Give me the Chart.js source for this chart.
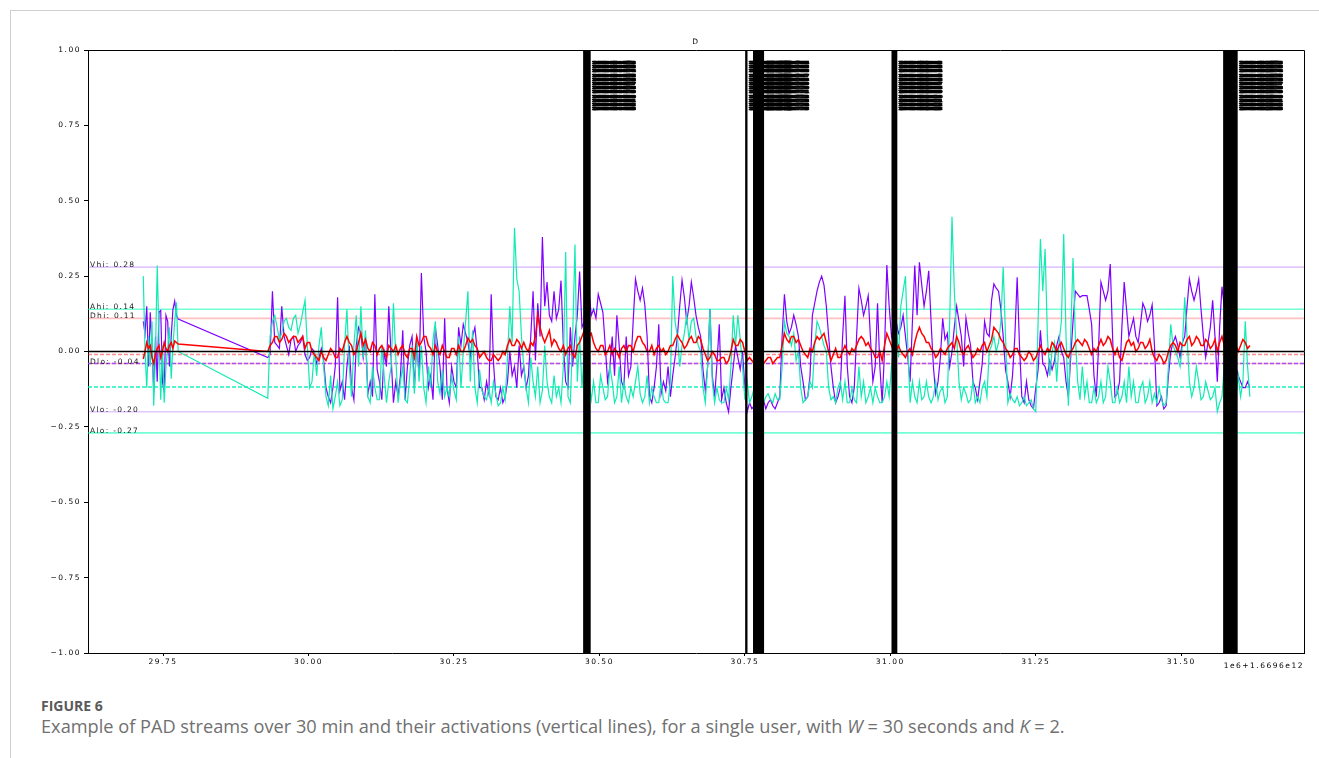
<!DOCTYPE html>
<html>
<head>
<meta charset="utf-8">
<script src="https://cdn.jsdelivr.net/npm/chart.js@4.4.1/dist/chart.umd.min.js"></script>
<style>
  html, body { margin: 0; padding: 0; background: #fff; }
  body { width: 1319px; height: 758px; position: relative; overflow: hidden; }
  #chart { position: absolute; left: 0; top: 0; }
  .frame { position: absolute; left: 10px; top: 10px; right: 0; bottom: 0;
           border-top: 1px solid #cfcfcf; border-left: 1px solid #cfcfcf; }
  .fig { position: absolute; left: 41px; top: 696px; font: bold 14px "Open Sans", sans-serif; color: #5a5a5a; }
  .cap { position: absolute; left: 41px; top: 714px; font: 18.2px "Open Sans", sans-serif; color: #707070; white-space: nowrap; }
</style>
</head>
<body>
<div class="frame"></div>
<canvas id="chart" width="1319" height="690"></canvas>
<div class="fig">FIGURE 6</div>
<div class="cap">Example of PAD streams over 30 min and their activations (vertical lines), for a single user, with <i>W</i> = 30 seconds and <i>K</i> = 2.</div>
<script>
// time axis in units of 1e6 ms, offset 1.6696e12
const times = [
  29.716, 29.719, 29.722, 29.725, 29.728, 29.731, 29.734, 29.737, 29.740, 29.743,
  29.746, 29.749, 29.752, 29.755, 29.758, 29.761, 29.764, 29.767, 29.770, 29.773, 29.776,
  29.930, 29.934, 29.938, 29.942, 29.946, 29.950, 29.954, 29.958, 29.962, 29.966,
  29.970, 29.974, 29.978, 29.982, 29.986, 29.990, 29.994, 29.998, 30.002, 30.006,
  30.010, 30.014, 30.018, 30.022, 30.026, 30.030, 30.034, 30.038, 30.042, 30.046,
  30.050, 30.054, 30.058, 30.062, 30.066, 30.070, 30.074, 30.078, 30.082, 30.086,
  30.090, 30.094, 30.098, 30.102, 30.106, 30.110, 30.114, 30.118, 30.122, 30.126,
  30.130, 30.134, 30.138, 30.142, 30.146, 30.150, 30.154, 30.158, 30.162, 30.166,
  30.170, 30.174, 30.178, 30.182, 30.186, 30.190, 30.194, 30.198, 30.202, 30.206,
  30.210, 30.214, 30.218, 30.222, 30.226, 30.230, 30.234, 30.238, 30.242, 30.246,
  30.250, 30.254, 30.258, 30.262, 30.266, 30.270, 30.274, 30.278, 30.282, 30.286,
  30.290, 30.294, 30.298, 30.302, 30.306, 30.310, 30.314, 30.318, 30.322, 30.326,
  30.330, 30.334, 30.338, 30.342, 30.346, 30.350, 30.354, 30.358, 30.362, 30.366,
  30.370, 30.374, 30.378, 30.382, 30.386, 30.390, 30.394, 30.398, 30.402, 30.406,
  30.410, 30.414, 30.418, 30.422, 30.426, 30.430, 30.434, 30.438, 30.442, 30.446,
  30.450, 30.454, 30.458, 30.462, 30.466, 30.470, 30.474, 30.478, 30.482, 30.486,
  30.490, 30.494, 30.498, 30.502, 30.506, 30.510, 30.514, 30.518, 30.522, 30.526,
  30.530, 30.534, 30.538, 30.542, 30.546, 30.550, 30.554, 30.558, 30.562, 30.566,
  30.570, 30.574, 30.578, 30.582, 30.586, 30.590, 30.594, 30.598, 30.602, 30.606,
  30.610, 30.614, 30.618, 30.622, 30.626, 30.630, 30.634, 30.638, 30.642, 30.646,
  30.650, 30.654, 30.658, 30.662, 30.666, 30.670, 30.674, 30.678, 30.682, 30.686,
  30.690, 30.694, 30.698, 30.702, 30.706, 30.710, 30.714, 30.718, 30.722, 30.726,
  30.730, 30.734, 30.738, 30.742, 30.746, 30.750, 30.754, 30.758, 30.762, 30.766,
  30.770, 30.774, 30.778, 30.782, 30.786, 30.790, 30.794, 30.798, 30.802, 30.806,
  30.810, 30.814, 30.818, 30.822, 30.826, 30.830, 30.834, 30.838, 30.842, 30.846,
  30.850, 30.854, 30.858, 30.862, 30.866, 30.870, 30.874, 30.878, 30.882, 30.886,
  30.890, 30.894, 30.898, 30.902, 30.906, 30.910, 30.914, 30.918, 30.922, 30.926,
  30.930, 30.934, 30.938, 30.942, 30.946, 30.950, 30.954, 30.958, 30.962, 30.966,
  30.970, 30.974, 30.978, 30.982, 30.986, 30.990, 30.994, 30.998, 31.002, 31.006,
  31.010, 31.014, 31.018, 31.022, 31.026, 31.030, 31.034, 31.038, 31.042, 31.046,
  31.050, 31.054, 31.058, 31.062, 31.066, 31.070, 31.074, 31.078, 31.082, 31.086,
  31.090, 31.094, 31.098, 31.102, 31.106, 31.110, 31.114, 31.118, 31.122, 31.126,
  31.130, 31.134, 31.138, 31.142, 31.146, 31.150, 31.154, 31.158, 31.162, 31.166,
  31.170, 31.174, 31.178, 31.182, 31.186, 31.190, 31.194, 31.198, 31.202, 31.206,
  31.210, 31.214, 31.218, 31.222, 31.226, 31.230, 31.234, 31.238, 31.242, 31.246,
  31.250, 31.254, 31.258, 31.262, 31.266, 31.270, 31.274, 31.278, 31.282, 31.286,
  31.290, 31.294, 31.298, 31.302, 31.306, 31.310, 31.314, 31.318, 31.322, 31.326,
  31.330, 31.334, 31.338, 31.342, 31.346, 31.350, 31.354, 31.358, 31.362, 31.366,
  31.370, 31.374, 31.378, 31.382, 31.386, 31.390, 31.394, 31.398, 31.402, 31.406,
  31.410, 31.414, 31.418, 31.422, 31.426, 31.430, 31.434, 31.438, 31.442, 31.446,
  31.450, 31.454, 31.458, 31.462, 31.466, 31.470, 31.474, 31.478, 31.482, 31.486,
  31.490, 31.494, 31.498, 31.502, 31.506, 31.510, 31.514, 31.518, 31.522, 31.526,
  31.530, 31.534, 31.538, 31.542, 31.546, 31.550, 31.554, 31.558, 31.562, 31.566,
  31.570, 31.574, 31.578, 31.582, 31.586, 31.590, 31.594, 31.598, 31.602, 31.606,
  31.610, 31.614, 31.618
];

const valence = [
  0.10, 0.06, 0.15, -0.05, 0.13, 0.02, -0.135, 0.05, -0.10, 0.13,
  0.136, -0.10, -0.135, 0.12, 0.10, -0.05, 0.05, 0.14, 0.167, 0.12, 0.108,
  -0.02, -0.01, 0.20, 0.03, 0.02, 0.01, 0.15, 0.05, 0.02, -0.01,
  0.04, 0.05, 0.00, 0.02, 0.03, 0.05, -0.01, -0.03, -0.02, 0.01,
  0.00, -0.04, -0.02, 0.01, -0.03, -0.12, -0.15, -0.17, -0.12, -0.05,
  0.18, -0.13, -0.10, -0.16, -0.05, 0.02, -0.12, -0.16, 0.02, 0.08,
  0.06, -0.02, 0.05, -0.14, -0.10, -0.15, 0.19, -0.06, -0.10, -0.16,
  0.00, -0.05, 0.15, -0.02, -0.17, -0.10, -0.15, -0.08, 0.07, -0.16,
  -0.05, 0.02, 0.05, -0.12, 0.03, -0.08, 0.26, 0.05, 0.00, -0.12,
  -0.08, -0.16, 0.08, 0.02, -0.05, -0.16, 0.11, -0.12, -0.17, -0.05,
  -0.10, -0.12, 0.08, 0.02, 0.09, 0.06, 0.03, -0.02, 0.05, 0.08,
  0.00, -0.12, -0.12, -0.16, -0.10, -0.14, 0.19, -0.04, -0.15, -0.16,
  -0.12, -0.17, -0.15, -0.10, 0.00, -0.08, -0.05, -0.12, 0.02, -0.08,
  -0.05, -0.12, -0.08, 0.05, 0.20, -0.03, 0.16, 0.05, 0.38, 0.15,
  0.23, 0.12, 0.10, 0.20, 0.11, 0.14, 0.235, 0.02, -0.10, -0.12,
  0.08, -0.05, 0.05, 0.12, 0.265, 0.08, 0.10, 0.18, 0.20, 0.12,
  0.14, 0.11, 0.19, 0.16, 0.13, 0.02, -0.10, -0.05, 0.05, -0.08,
  0.12, 0.02, -0.10, -0.12, 0.05, -0.08, -0.05, 0.10, 0.24, 0.20,
  0.17, 0.21, 0.155, 0.05, -0.15, -0.17, -0.12, -0.05, 0.09, -0.14,
  -0.10, -0.13, -0.05, -0.15, -0.08, -0.02, 0.05, 0.15, 0.237, 0.18,
  0.10, 0.15, 0.23, 0.18, 0.12, 0.08, 0.05, -0.06, -0.13, -0.05,
  0.14, -0.08, -0.15, -0.04, 0.09, -0.16, -0.12, -0.17, -0.20, -0.12,
  -0.05, 0.02, -0.02, -0.06, 0.00, -0.12, -0.20, -0.17, -0.19, -0.18,
  -0.15, -0.19, -0.18, -0.16, -0.19, -0.17, -0.16, -0.18, -0.19, -0.17,
  -0.15, 0.05, 0.19, 0.10, 0.06, 0.08, 0.12, 0.09, 0.05, -0.05,
  -0.10, -0.16, -0.15, -0.08, 0.12, 0.16, 0.20, 0.23, 0.25, 0.22,
  0.15, 0.05, -0.05, -0.12, -0.17, -0.15, -0.12, 0.05, 0.185, -0.05,
  -0.15, -0.17, -0.12, 0.05, 0.21, 0.17, 0.12, 0.15, 0.185, 0.04,
  -0.10, -0.05, 0.16, -0.05, -0.17, 0.00, 0.287, 0.15, 0.05, 0.08,
  0.10, 0.06, 0.08, 0.12, 0.05, -0.02, -0.10, 0.10, 0.285, 0.12,
  0.296, 0.22, 0.15, 0.20, 0.268, 0.10, -0.05, -0.14, -0.10, -0.02,
  0.11, 0.04, 0.06, -0.05, 0.00, 0.08, 0.15, 0.10, 0.05, -0.05,
  0.11, 0.06, 0.02, -0.10, -0.12, -0.16, -0.10, -0.04, 0.10, 0.06,
  0.05, 0.17, 0.224, 0.21, 0.20, 0.14, 0.05, -0.06, -0.10, -0.15,
  -0.08, 0.05, 0.246, 0.02, -0.15, -0.17, -0.10, -0.16, -0.18, -0.19,
  -0.12, -0.06, 0.07, -0.04, -0.05, -0.08, -0.03, -0.06, -0.03, 0.02,
  0.05, 0.00, -0.02, -0.10, -0.15, -0.02, 0.10, 0.20, 0.19, 0.18,
  0.185, 0.185, 0.185, 0.14, 0.09, -0.08, -0.15, 0.02, 0.23, 0.20,
  0.17, 0.20, 0.29, 0.05, -0.15, -0.14, -0.10, 0.08, 0.23, 0.14,
  0.05, 0.08, 0.11, 0.05, 0.03, 0.09, 0.16, 0.14, 0.10, 0.12,
  0.155, 0.02, -0.18, -0.17, -0.15, -0.19, -0.18, -0.08, 0.00, 0.03,
  0.05, 0.02, -0.02, 0.03, 0.05, 0.15, 0.24, 0.20, 0.17, 0.20,
  0.24, 0.14, 0.05, -0.02, 0.03, 0.08, 0.17, 0.05, -0.10, 0.08,
  0.215, 0.15, 0.10, 0.05, 0.00, -0.03, -0.05, -0.08, -0.10, -0.12,
  -0.12, -0.10, -0.12
];

const arousal = [
  0.25, 0.00, -0.12, 0.05, -0.05, 0.10, -0.18, 0.00, 0.285, 0.05,
  -0.16, 0.02, -0.17, -0.05, 0.01, 0.08, -0.09, 0.02, 0.10, 0.163, 0.00,
  -0.155, 0.05, 0.10, 0.12, 0.08, 0.04, 0.06, 0.10, 0.11, 0.08,
  0.07, 0.11, 0.12, 0.06, 0.09, 0.13, 0.17, 0.02, -0.12, -0.10,
  0.00, -0.08, 0.02, 0.08, -0.05, -0.15, -0.18, -0.08, -0.19, -0.15,
  -0.10, -0.18, -0.16, 0.02, 0.14, -0.05, -0.15, 0.02, 0.12, -0.05,
  0.15, -0.02, 0.07, -0.15, -0.17, -0.05, -0.12, -0.16, -0.16, 0.02,
  -0.08, -0.17, -0.10, -0.05, 0.16, -0.02, -0.17, -0.10, -0.05, -0.16,
  -0.17, -0.08, 0.02, -0.14, 0.05, -0.10, 0.02, -0.12, -0.17, -0.05,
  -0.12, 0.04, 0.10, -0.10, -0.14, -0.06, -0.15, -0.12, -0.15, -0.08,
  -0.13, -0.16, 0.05, -0.12, 0.00, 0.10, 0.20, -0.10, 0.07, -0.12,
  -0.17, -0.06, -0.13, -0.15, -0.16, -0.12, -0.17, -0.10, -0.14, -0.18,
  -0.17, -0.12, -0.16, -0.02, 0.15, 0.03, 0.41, 0.24, 0.20, 0.05,
  -0.05, -0.12, -0.17, -0.02, -0.10, -0.15, -0.05, -0.17, -0.13, 0.02,
  -0.10, -0.15, -0.17, -0.08, -0.15, -0.12, -0.17, -0.05, 0.33, -0.15,
  -0.17, 0.05, 0.355, -0.10, 0.05, -0.12, 0.00, -0.15, -0.10, -0.16,
  -0.10, -0.17, -0.17, -0.08, -0.12, -0.16, -0.15, -0.05, -0.10, -0.17,
  -0.15, -0.05, -0.17, -0.10, -0.15, -0.17, -0.12, -0.15, -0.10, -0.05,
  -0.14, -0.17, -0.15, -0.08, -0.17, -0.12, -0.15, -0.17, -0.17, -0.10,
  -0.16, -0.17, -0.17, -0.10, 0.25, 0.10, 0.05, -0.05, 0.02, 0.06,
  0.12, 0.04, 0.10, 0.11, 0.05, 0.02, 0.00, -0.12, -0.17, -0.05,
  0.14, -0.10, -0.17, -0.12, -0.16, -0.17, -0.17, -0.12, -0.16, -0.05,
  0.12, 0.02, 0.12, 0.04, -0.05, -0.16, -0.10, -0.17, -0.15, -0.12,
  -0.17, -0.16, -0.16, -0.17, -0.15, -0.14, -0.16, -0.17, -0.14, -0.16,
  -0.16, -0.05, 0.10, 0.06, 0.05, 0.02, 0.06, -0.03, 0.00, -0.12,
  -0.17, -0.16, -0.15, -0.10, -0.12, 0.02, 0.10, 0.08, 0.05, 0.02,
  0.00, -0.12, -0.16, -0.15, -0.17, -0.12, -0.10, -0.16, -0.10, -0.17,
  -0.17, -0.12, -0.16, -0.17, -0.05, -0.15, -0.10, -0.17, -0.15, -0.12,
  -0.17, -0.12, -0.15, -0.17, -0.17, -0.15, -0.10, -0.15, -0.05, 0.02,
  0.10, -0.02, 0.15, 0.20, 0.25, 0.02, -0.17, -0.10, -0.15, -0.17,
  -0.10, -0.16, -0.15, -0.10, -0.15, -0.17, -0.15, -0.10, -0.16, -0.13,
  -0.12, -0.17, -0.15, 0.10, 0.447, 0.20, 0.05, -0.10, -0.16, -0.12,
  -0.14, -0.17, -0.16, -0.10, -0.17, -0.15, -0.17, -0.12, -0.10, -0.15,
  0.00, 0.02, 0.05, 0.00, 0.03, 0.10, 0.28, 0.05, -0.17, -0.14,
  -0.16, -0.17, -0.15, -0.18, -0.17, -0.15, -0.18, -0.17, -0.16, -0.19,
  -0.20, 0.10, 0.373, 0.20, 0.34, 0.05, -0.08, 0.00, 0.03, -0.10,
  0.03, 0.10, 0.39, 0.05, -0.18, 0.05, 0.31, 0.05, -0.10, -0.16,
  -0.05, -0.15, -0.10, -0.17, -0.17, -0.12, -0.17, -0.15, -0.10, -0.17,
  -0.15, -0.05, -0.10, -0.17, -0.17, -0.12, -0.17, -0.15, -0.10, -0.17,
  -0.05, -0.15, -0.10, -0.17, -0.17, -0.12, -0.10, -0.17, -0.15, -0.10,
  -0.17, -0.14, -0.17, -0.12, -0.16, -0.18, -0.17, -0.05, 0.09, 0.02,
  0.00, -0.02, -0.05, 0.02, 0.18, 0.05, -0.10, -0.15, -0.12, -0.05,
  -0.10, -0.16, -0.15, -0.10, -0.13, -0.16, -0.15, -0.12, -0.20, -0.17,
  -0.15, -0.05, -0.10, -0.14, -0.05, -0.16, -0.15, -0.08, -0.15, -0.10,
  0.10, -0.05, -0.15
];

const dominance = [
  -0.025, 0.00, 0.03, 0.01, 0.02, -0.02, -0.04, -0.01, 0.01, 0.02,
  -0.02, 0.00, 0.03, 0.01, 0.00, 0.02, 0.03, 0.01, 0.035, 0.03, 0.025,
  0.00, 0.02, 0.03, 0.05, 0.05, 0.03, 0.04, 0.06, 0.05, 0.03,
  0.04, 0.05, 0.05, 0.03, 0.04, 0.05, 0.01, 0.03, 0.03, 0.00,
  -0.01, -0.02, -0.03, 0.00, -0.02, -0.03, -0.01, 0.01, 0.00, -0.02,
  -0.02, 0.01, 0.00, 0.03, 0.05, 0.03, 0.02, -0.01, 0.00, 0.03,
  0.06, 0.02, 0.04, 0.01, 0.00, 0.03, 0.02, -0.01, 0.01, 0.02,
  0.00, -0.02, 0.02, 0.01, 0.00, 0.02, -0.01, 0.01, 0.02, -0.01,
  -0.02, 0.01, 0.01, -0.02, 0.05, 0.02, 0.03, 0.05, 0.05, 0.02,
  0.01, -0.01, 0.02, 0.00, -0.01, 0.02, 0.00, -0.02, -0.02, 0.01,
  0.01, -0.01, 0.02, 0.00, 0.00, 0.02, 0.045, 0.03, 0.04, 0.02,
  0.01, -0.02, -0.01, 0.00, -0.02, -0.03, -0.03, -0.01, -0.02, -0.03,
  -0.02, 0.00, -0.01, 0.02, 0.04, 0.02, 0.02, 0.04, 0.03, 0.01,
  0.03, 0.01, 0.00, 0.03, 0.02, 0.05, 0.12, 0.08, 0.05, 0.03,
  0.05, 0.07, 0.02, 0.04, 0.03, 0.01, 0.00, 0.02, -0.01, 0.01,
  0.02, -0.01, -0.02, 0.02, 0.03, 0.05, 0.07, 0.04, 0.05, 0.06,
  0.03, 0.01, 0.00, 0.02, 0.02, -0.01, 0.00, 0.02, -0.01, 0.01,
  0.00, -0.02, 0.01, 0.02, 0.00, 0.02, 0.02, 0.00, 0.03, 0.05,
  0.05, 0.03, 0.02, 0.00, 0.00, 0.02, -0.01, 0.01, 0.02, 0.00,
  0.01, -0.01, 0.00, 0.02, 0.02, 0.04, 0.055, 0.04, 0.03, 0.01,
  0.02, 0.04, 0.05, 0.03, 0.03, 0.05, 0.04, 0.01, -0.01, -0.03,
  -0.02, 0.00, -0.01, -0.03, -0.03, -0.02, -0.02, -0.04, -0.03, 0.00,
  0.04, 0.02, 0.02, 0.04, 0.03, 0.00, -0.03, -0.02, -0.03, -0.04,
  -0.03, -0.02, -0.03, -0.04, -0.03, -0.02, -0.02, -0.04, -0.03, -0.02,
  -0.02, 0.02, 0.06, 0.04, 0.03, 0.05, 0.05, 0.03, 0.04, 0.02,
  0.00, -0.01, -0.02, 0.01, 0.00, 0.03, 0.05, 0.04, 0.05, 0.06,
  0.03, 0.00, -0.03, -0.01, 0.01, -0.02, -0.02, 0.00, 0.02, 0.00,
  -0.01, 0.01, 0.00, 0.02, 0.04, 0.05, 0.04, 0.02, 0.03, 0.01,
  0.00, -0.02, -0.02, 0.00, -0.03, 0.02, 0.06, 0.04, 0.02, 0.00,
  0.00, 0.02, 0.00, -0.01, -0.02, 0.00, 0.01, -0.01, 0.03, 0.06,
  0.08, 0.06, 0.05, 0.03, 0.03, 0.01, 0.00, -0.02, -0.01, 0.01,
  0.00, -0.01, 0.01, 0.02, 0.03, 0.01, 0.05, 0.03, 0.00, -0.01,
  0.01, 0.02, 0.00, -0.02, -0.01, 0.01, 0.00, 0.02, 0.03, 0.00,
  0.02, 0.04, 0.08, 0.07, 0.06, 0.04, 0.03, 0.01, 0.00, -0.02,
  -0.01, 0.01, 0.01, -0.01, -0.02, -0.03, -0.02, 0.00, -0.01, -0.03,
  -0.02, 0.00, 0.02, 0.00, -0.01, 0.01, 0.00, 0.03, 0.02, 0.00,
  0.02, 0.03, 0.01, -0.01, -0.02, 0.00, 0.01, 0.03, 0.04, 0.03,
  0.02, 0.04, 0.03, 0.01, -0.01, 0.01, 0.00, 0.02, 0.04, 0.02,
  0.03, 0.05, 0.04, 0.01, -0.01, 0.01, -0.02, -0.03, 0.00, 0.03,
  0.04, 0.02, 0.03, 0.00, 0.01, 0.03, 0.03, 0.01, 0.02, 0.04,
  0.00, -0.02, -0.03, -0.01, -0.02, -0.04, -0.03, 0.00, 0.02, 0.03,
  0.02, 0.00, 0.03, 0.02, 0.02, 0.04, 0.05, 0.02, 0.03, 0.05,
  0.04, 0.02, 0.02, 0.04, 0.03, 0.01, 0.02, 0.04, 0.00, 0.03,
  0.05, 0.02, 0.03, 0.01, 0.00, 0.03, 0.02, 0.00, 0.02, 0.04,
  0.03, 0.01, 0.02
];

// threshold lines (hi / lo) with their labels
const thresholdNames  = ['Vhi', 'Ahi', 'Dhi', 'Dlo', 'Vlo', 'Alo'];
const thresholdValues = [0.28, 0.14, 0.11, -0.04, -0.20, -0.27];
const thresholdColors = ['rgba(128,0,255,0.22)', 'rgba(0,255,180,0.55)', 'rgba(255,0,0,0.25)',
                         'rgba(255,0,0,0.25)', 'rgba(128,0,255,0.22)', 'rgba(0,255,180,0.55)'];
// stream means (dashed)
const meanValues = [-0.01, -0.04, -0.118];
const meanColors = ['rgba(255,0,0,0.45)', 'rgba(150,60,255,0.85)', 'rgba(0,240,180,0.9)'];

// activations (vertical lines), start / end in the same time units
const activationStart = [30.472, 30.7505, 30.764, 31.002, 31.572];
const activationEnd   = [30.485, 30.7545, 30.783, 31.012, 31.597];

const xTicks = [29.75, 30.00, 30.25, 30.50, 30.75, 31.00, 31.25, 31.50];
const yTicks = [-1, -0.75, -0.5, -0.25, 0, 0.25, 0.5, 0.75, 1];

const AXFONT = 'DejaVu Sans';

function pairs(vals) {
  return times.map((t, i) => ({ x: t, y: vals[i] }));
}

const decorations = {
  id: 'decorations',
  beforeDraw(chart) {
    chart.ctx.letterSpacing = '1.5px';
  },
  beforeDatasetsDraw(chart) {
    const { ctx, chartArea: a, scales: { y } } = chart;
    ctx.save();
    thresholdValues.forEach((v, i) => {
      const py = y.getPixelForValue(v);
      ctx.strokeStyle = thresholdColors[i];
      ctx.lineWidth = 1.6;
      ctx.beginPath(); ctx.moveTo(a.left, py); ctx.lineTo(a.right, py); ctx.stroke();
    });
    meanValues.forEach((v, i) => {
      const py = y.getPixelForValue(v);
      ctx.strokeStyle = meanColors[i];
      ctx.lineWidth = 1.5;
      ctx.setLineDash([4, 2]);
      ctx.beginPath(); ctx.moveTo(a.left, py); ctx.lineTo(a.right, py); ctx.stroke();
    });
    ctx.restore();
  },
  afterDatasetsDraw(chart) {
    const { ctx, chartArea: a, scales: { x, y } } = chart;
    ctx.save();
    // zero line
    const py0 = y.getPixelForValue(0);
    ctx.strokeStyle = '#000';
    ctx.lineWidth = 1.4;
    ctx.beginPath(); ctx.moveTo(a.left, py0); ctx.lineTo(a.right, py0); ctx.stroke();

    // threshold labels
    ctx.letterSpacing = '1.3px';
    ctx.font = '7.5px ' + AXFONT;
    ctx.fillStyle = '#222';
    ctx.textBaseline = 'alphabetic';
    ctx.textAlign = 'left';
    thresholdValues.forEach((v, i) => {
      ctx.fillText(thresholdNames[i] + ': ' + v.toFixed(2), a.left + 2, y.getPixelForValue(v));
    });

    // activation bars and their stacked time labels
    ctx.letterSpacing = '1.5px';
    activationStart.forEach((s, k) => {
      const x1 = x.getPixelForValue(s);
      const x2 = x.getPixelForValue(activationEnd[k]);
      ctx.fillStyle = '#000';
      ctx.fillRect(x1, a.top, Math.max(2, x2 - x1), a.bottom - a.top);
      ctx.font = 'bold 4px ' + AXFONT;
      ctx.textBaseline = 'top';
      ctx.strokeStyle = '#000';
      ctx.lineWidth = 0.6;
      const sec = Math.round(1669600000 + s * 1000);
      for (let r = 0; r < 12; r++) {
        const label = String(sec + r);
        const ty = a.top + 11 + r * 4.2;
        for (let d = 0; d < 4; d++) {
          ctx.fillText(label, x2 + 1 + d, ty);
          ctx.strokeText(label, x2 + 1 + d, ty);
        }
      }
    });

    // top and right spines
    ctx.strokeStyle = '#000';
    ctx.lineWidth = 1;
    ctx.beginPath();
    ctx.moveTo(a.left, a.top + 0.5); ctx.lineTo(a.right + 0.5, a.top + 0.5); ctx.lineTo(a.right + 0.5, a.bottom);
    ctx.stroke();
    ctx.restore();
  }
};

const canvas = document.getElementById('chart');
const ctx = canvas.getContext('2d');
ctx.letterSpacing = '1.5px';

new Chart(ctx, {
  type: 'line',
  data: {
    datasets: [
      { label: 'D', data: pairs(dominance), borderColor: '#ff0000', borderWidth: 1.5 },
      { label: 'A', data: pairs(arousal), borderColor: '#12eab4', borderWidth: 1.2 },
      { label: 'V', data: pairs(valence), borderColor: '#8000ff', borderWidth: 1.2 }
    ]
  },
  options: {
    responsive: false,
    animation: false,
    events: [],
    elements: { point: { radius: 0 }, line: { tension: 0 } },
    layout: { padding: { left: 0, right: 15, top: 0, bottom: 0 } },
    plugins: {
      legend: { display: false },
      tooltip: { enabled: false },
      title: {
        display: true, text: 'D', color: '#000', fullSize: false,
        font: { family: AXFONT, size: 7.5, weight: 'normal' },
        padding: { top: 38, bottom: 3 }
      }
    },
    scales: {
      x: {
        type: 'linear', min: 29.621, max: 31.711,
        afterBuildTicks: s => { s.ticks = xTicks.map(v => ({ value: v })); },
        afterFit: s => { s.height = 37; },
        grid: { drawOnChartArea: false, tickLength: 3, tickColor: '#000' },
        border: { color: '#000', width: 1 },
        ticks: {
          autoSkip: false, maxRotation: 0, padding: 2, color: '#000',
          font: { family: AXFONT, size: 7.5 },
          callback: v => v.toFixed(2)
        },
        title: {
          display: true, text: '1e6+1.6696e12', align: 'end', color: '#000',
          font: { family: AXFONT, size: 7.5 },
          padding: { top: 0, bottom: 19 }
        }
      },
      y: {
        min: -1, max: 1,
        afterBuildTicks: s => { s.ticks = yTicks.map(v => ({ value: v })); },
        afterFit: s => { s.width = 88; },
        grid: { drawOnChartArea: false, tickLength: 4, tickColor: '#000' },
        border: { color: '#000', width: 1 },
        ticks: {
          autoSkip: false, padding: 3, color: '#000',
          font: { family: AXFONT, size: 7.5 },
          callback: v => (v < 0 ? '\u2212' : '') + Math.abs(v).toFixed(2)
        }
      }
    }
  },
  plugins: [decorations]
});
</script>
</body>
</html>
